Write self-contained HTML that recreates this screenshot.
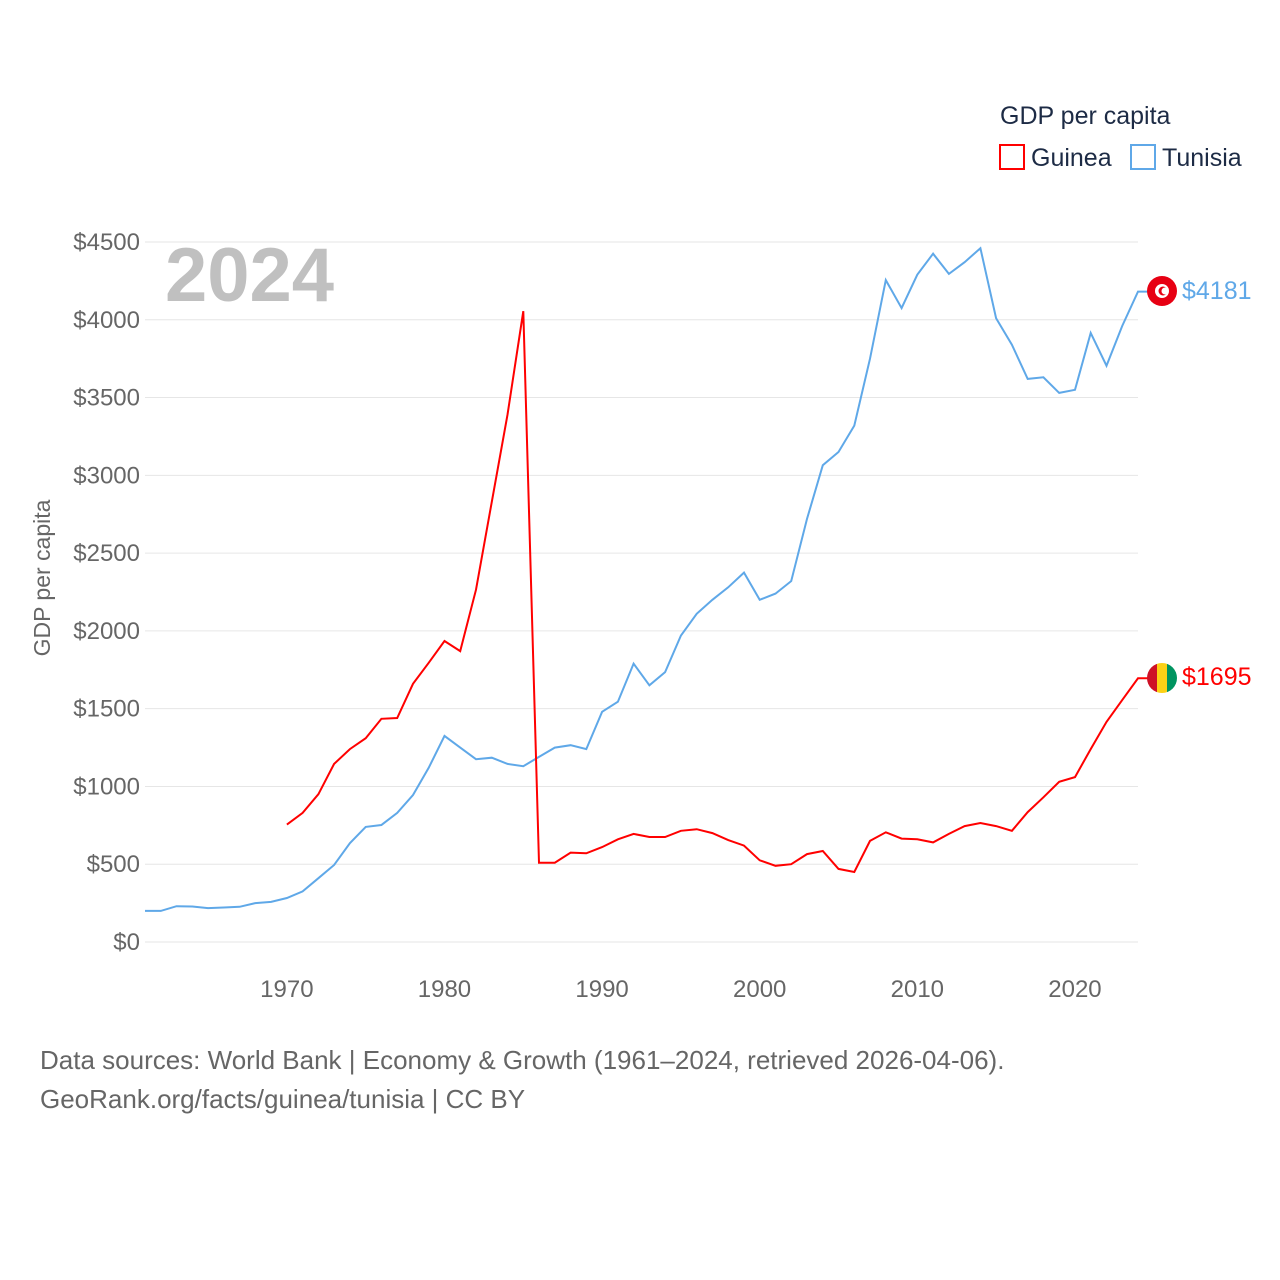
<!DOCTYPE html>
<html><head><meta charset="utf-8"><style>
body{margin:0;background:#fff;}
svg{display:block;font-family:"Liberation Sans",sans-serif;}
</style></head><body>
<svg id="chart" width="1280" height="1280" viewBox="0 0 1280 1280">
<text x="1000" y="124" font-size="25" fill="#1d2b45">GDP per capita</text>
<g><rect x="1000" y="145" width="24" height="24" fill="none" stroke="#f00" stroke-width="2"/><text x="1031" y="166" font-size="25" fill="#1d2b45">Guinea</text></g>
<g><rect x="1131" y="145" width="24" height="24" fill="none" stroke="#5fa8e8" stroke-width="2"/><text x="1162" y="166" font-size="25" fill="#1d2b45">Tunisia</text></g>
<g id="grid"></g>
<text x="165" y="301" font-size="76" font-weight="bold" fill="#c0c0c0">2024</text>
<text transform="translate(50,578) rotate(-90)" text-anchor="middle" font-size="23" fill="#666">GDP per capita</text>
<g id="series"></g>
<g><circle cx="1162" cy="291" r="15" fill="#e70013"/><circle cx="1162" cy="291" r="7" fill="#fff"/><circle cx="1163" cy="291" r="4.5" fill="#e70013"/><circle cx="1165" cy="291" r="3.5" fill="#fff"/></g>
<g><clipPath id="gc"><circle cx="1162" cy="678" r="15"/></clipPath><g clip-path="url(#gc)"><rect x="1147" y="663" width="10" height="30" fill="#ce1126"/><rect x="1157" y="663" width="10" height="30" fill="#fcd116"/><rect x="1167" y="663" width="10" height="30" fill="#009460"/></g></g>
<text x="1182" y="299" font-size="25" fill="#5fa8e8">$4181</text>
<text x="1182" y="685" font-size="25" fill="#f00">$1695</text>
<text x="40" y="1069" font-size="26" fill="#666">Data sources: World Bank | Economy &amp; Growth (1961–2024, retrieved 2026-04-06).</text>
<text x="40" y="1108" font-size="26" fill="#666">GeoRank.org/facts/guinea/tunisia | CC BY</text>
</svg>
<script>
const yTicks=[0,500,1000,1500,2000,2500,3000,3500,4000,4500];
const xTicks=[1970,1980,1990,2000,2010,2020];
const tunisiaYears=[];for(let y=1961;y<=2024;y++)tunisiaYears.push(y);
const tunisiaValues=[200,200,230,228,218,222,226,250,258,283,325,410,495,635,740,752,830,945,1120,1325,1250,1175,1185,1145,1130,1190,1250,1265,1240,1480,1545,1790,1650,1735,1970,2110,2200,2280,2375,2200,2240,2320,2720,3065,3150,3320,3750,4255,4075,4290,4425,4295,4370,4460,4010,3840,3620,3630,3530,3550,3915,3705,3960,4181];
const guineaYears=[];for(let y=1970;y<=2024;y++)guineaYears.push(y);
const guineaValues=[755,830,950,1145,1240,1310,1435,1440,1660,1795,1935,1870,2265,2830,3390,4055,510,510,575,570,610,660,695,675,675,715,725,700,655,620,525,490,500,565,585,470,450,650,705,665,660,640,695,745,765,745,715,835,930,1030,1060,1240,1415,1555,1695];
const NS='http://www.w3.org/2000/svg';
const xs=y=>145+(y-1961)*(1138-145)/63;
const ys=v=>942-v*700/4500;
const grid=document.getElementById('grid');
yTicks.forEach(t=>{
 const l=document.createElementNS(NS,'line');
 l.setAttribute('x1',145);l.setAttribute('x2',1138);l.setAttribute('y1',ys(t));l.setAttribute('y2',ys(t));
 l.setAttribute('stroke','#e6e6e6');l.setAttribute('stroke-width','1');
 
 
 grid.appendChild(l);
 const tx=document.createElementNS(NS,'text');
 tx.setAttribute('x',140);tx.setAttribute('y',ys(t)+8);tx.setAttribute('text-anchor','end');
 tx.setAttribute('font-size','24');tx.setAttribute('fill','#666');tx.textContent='$'+t;
 
 
 grid.appendChild(tx);
});
xTicks.forEach(t=>{
 const tx=document.createElementNS(NS,'text');
 tx.setAttribute('x',xs(t));tx.setAttribute('y',997);tx.setAttribute('text-anchor','middle');
 tx.setAttribute('font-size','24');tx.setAttribute('fill','#666');tx.textContent=t;
 
 
 grid.appendChild(tx);
});
const ser=document.getElementById('series');
function line(years,vals,color,name){
 const p=document.createElementNS(NS,'path');
 let d=years.map((y,i)=>(i?'L':'M')+xs(y).toFixed(1)+' '+ys(vals[i]).toFixed(1)).join(' ');
 d+=' L1150 '+ys(vals[vals.length-1]).toFixed(1);
 p.setAttribute('d',d);p.setAttribute('fill','none');p.setAttribute('stroke',color);p.setAttribute('stroke-width','2');
 
 
 ser.appendChild(p);
}
line(tunisiaYears,tunisiaValues,'#5fa8e8','tunisia-line');
line(guineaYears,guineaValues,'#ff0000','guinea-line');
</script>
</body></html>
